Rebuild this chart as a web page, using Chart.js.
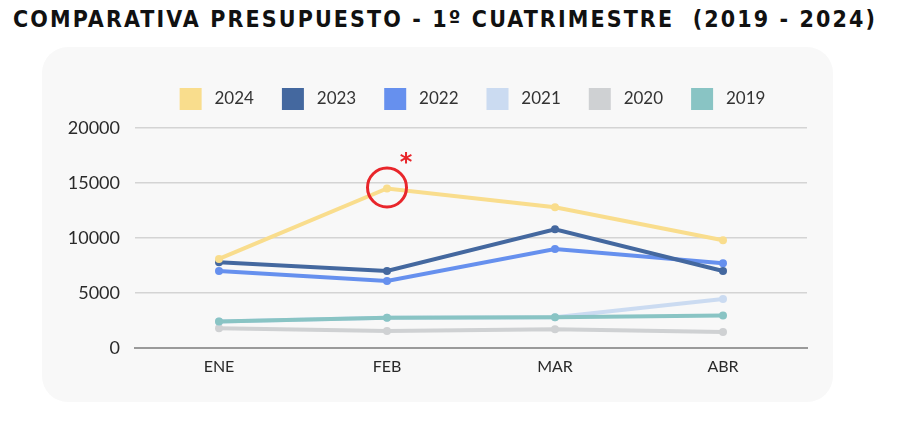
<!DOCTYPE html>
<html>
<head>
<meta charset="utf-8">
<script src="https://cdn.jsdelivr.net/npm/chart.js@4.4.0/dist/chart.umd.min.js"></script>
<style>
  html, body { margin: 0; padding: 0; background: #ffffff; width: 900px; height: 422px; overflow: hidden; }
  #title {
    position: absolute; left: 13px; top: 5px; white-space: nowrap;
    font-family: "DejaVu Sans Condensed", "DejaVu Sans", sans-serif; font-weight: bold;
    font-size: 23px; color: #111111; line-height: 28px;
  }
  #card {
    position: absolute; left: 42px; top: 47px; width: 791px; height: 355px;
    border-radius: 26px; background: #f8f8f8;
  }
  #wrap { position: absolute; left: 0; top: 0; width: 900px; height: 422px; }
</style>
</head>
<body>
<div id="title">COMPARATIVA PRESUPUESTO - 1º CUATRIMESTRE&nbsp;&nbsp;(2019 - 2024)</div>
<div id="card"></div>
<div id="wrap"><canvas id="c" width="900" height="422"></canvas></div>
<script>
const categories = ["ENE", "FEB", "MAR", "ABR"];
const yTicks = [0, 5000, 10000, 15000, 20000];
const seriesNames = ["2024", "2023", "2022", "2021", "2020", "2019"];
const v2024 = [8100, 14500, 12800, 9800];
const v2023 = [7800, 7000, 10800, 7000];
const v2022 = [7000, 6100, 9000, 7700];
const v2021 = [2400, 2750, 2800, 4450];
const v2020 = [1800, 1550, 1700, 1450];
const v2019 = [2400, 2750, 2800, 2950];
const highlightSeries = 0;   // 2024
const highlightIndex = 1;    // FEB

// fit title width
(function(){
  const t = document.getElementById('title');
  const target = 862;
  const w = t.getBoundingClientRect().width;
  const n = t.textContent.length;
  t.style.letterSpacing = ((target - w) / (n - 1)) + 'px';
})();

const colors = ["#f9dd8d", "#44689f", "#6690ee", "#cbdbf1", "#cfd1d3", "#89c4c4"];
const orders = [0, 1, 2, 4, 5, 3];
const values = [v2024, v2023, v2022, v2021, v2020, v2019];

const datasets = seriesNames.map((n, i) => ({
  label: n,
  data: values[i],
  borderColor: colors[i],
  backgroundColor: colors[i],
  pointBackgroundColor: colors[i],
  pointBorderColor: colors[i],
  borderWidth: 4,
  pointRadius: 4,
  pointBorderWidth: 0,
  tension: 0,
  order: orders[i]
}));

const legendSpace = {
  id: 'legendSpace',
  beforeInit(chart) {
    const lg = chart.legend;
    const orig = lg.fit;
    lg.fit = function() { orig.call(lg); this.height += 8; };
  },
  afterLayout(chart) {
    chart.legend.left = 133;
    chart.legend.right = 812;
  }
};

const annot = {
  id: 'annot',
  afterDatasetsDraw(chart) {
    const meta = chart.getDatasetMeta(highlightSeries);
    const p = meta.data[highlightIndex];
    if (!p) return;
    const ctx = chart.ctx;
    ctx.save();
    ctx.strokeStyle = '#e8262b';
    ctx.lineWidth = 3;
    ctx.beginPath();
    ctx.arc(p.x, p.y - 1, 19.5, 0, Math.PI * 2);
    ctx.stroke();
    ctx.fillStyle = '#e8262b';
    ctx.font = 'bold 24px "DejaVu Sans", sans-serif';
    ctx.textAlign = 'center';
    ctx.textBaseline = 'middle';
    ctx.fillText('*', p.x + 19, p.y - 25);
    ctx.restore();
  }
};

new Chart(document.getElementById('c'), {
  type: 'line',
  data: { labels: categories, datasets },
  options: {
    responsive: false,
    animation: false,
    devicePixelRatio: 1,
    layout: { padding: { left: 0, right: 93, top: 60, bottom: 0 } },
    plugins: {
      tooltip: { enabled: false },
      legend: {
        position: 'top',
        labels: {
          boxWidth: 22,
          boxHeight: 22,
          padding: 28,
          color: '#333333',
          font: { family: 'Lato, "Noto Sans", sans-serif', size: 17 },
          sort: (a, b) => a.datasetIndex - b.datasetIndex,
          generateLabels: (chart) => Chart.defaults.plugins.legend.labels.generateLabels(chart).map(l => Object.assign(l, { lineWidth: 0, text: ' ' + l.text }))
        }
      }
    },
    scales: {
      x: {
        offset: true,
        grid: { display: false, drawTicks: false },
        border: { display: true, color: '#9a9a9a', width: 2 },
        ticks: { color: '#2a2a2a', padding: 9, font: { family: 'Lato, "Noto Sans", sans-serif', size: 16 } },
        afterFit: (s) => { s.height = 74; }
      },
      y: {
        min: 0, max: 20000,
        afterBuildTicks: (s) => { s.ticks = yTicks.map(v => ({ value: v })); },
        grid: { color: '#d4d4d4', lineWidth: 1.5, drawTicks: false },
        border: { display: false },
        ticks: { color: '#2a2a2a', padding: 15, font: { family: 'Lato, "Noto Sans", sans-serif', size: 18 }, callback: (v) => String(v) },
        afterFit: (s) => { s.width = 135; }
      }
    }
  },
  plugins: [legendSpace, annot]
});
</script>
</body>
</html>
